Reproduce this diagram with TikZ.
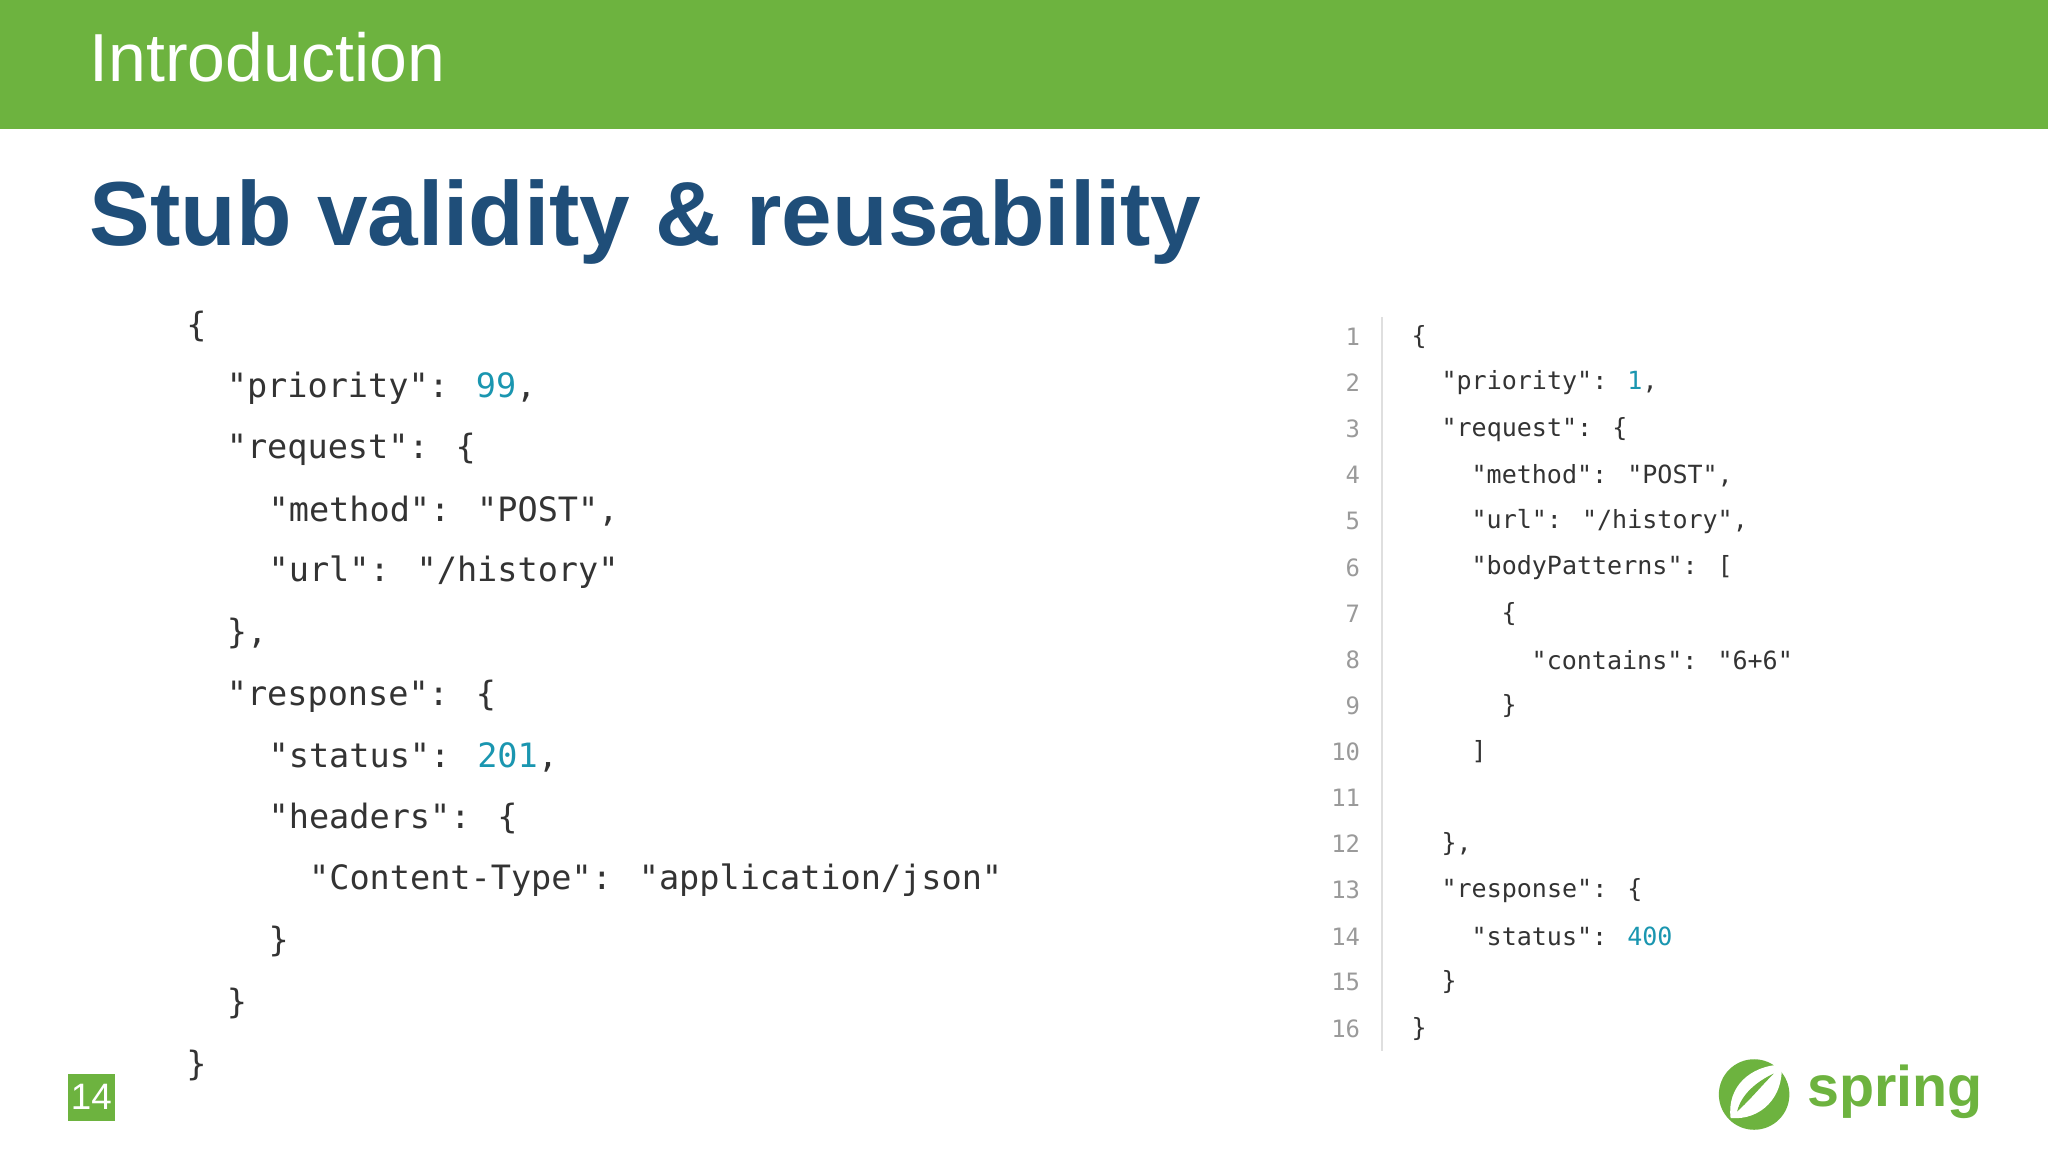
\documentclass[tikz,border=0pt]{standalone}
\usepackage{fontspec}
\setmainfont{Liberation Sans}
\newfontfamily\codefont{DejaVu Sans Mono}
\definecolor{sgreen}{HTML}{6DB33F}
\definecolor{tblue}{HTML}{1F4E79}
\definecolor{numc}{HTML}{1A96B0}
\definecolor{codec}{HTML}{333333}
\definecolor{lnum}{HTML}{9A9A9A}
\newcommand{\NN}[1]{\textcolor{numc}{#1}}
\tikzset{
 lcode/.style={anchor=west,inner sep=0pt,font=\codefont\fontsize{7.3}{8}\selectfont,text=codec},
 rcode/.style={anchor=west,inner sep=0pt,font=\codefont\fontsize{5.45}{6}\selectfont,text=codec},
 lno/.style={anchor=east,inner sep=0pt,font=\codefont\fontsize{5.2}{6}\selectfont,text=lnum}
}
\begin{document}
\begin{tikzpicture}[x=0.01cm,y=-0.01cm]
\useasboundingbox (0,0) rectangle (1568,880);
\fill[white] (0,0) rectangle (1568,880);
\fill[sgreen] (0,0) rectangle (1568,99);
\node[anchor=west,inner sep=0pt,text=white,font=\fontsize{14.8}{17}\selectfont] (hdr) at (68,44) {Introduction};
\node[anchor=west,inner sep=0pt,text=tblue,font=\bfseries\fontsize{19.8}{22}\selectfont] (title) at (68,170) {Stub validity \& reusability};
% left code
\node[lcode] (l1) at (142,250) {\{};
\node[lcode] (l2) at (173,297) {"priority": \NN{99},};
\node[lcode] (l3) at (173,344) {"request": \{};
\node[lcode] (l4) at (205,391) {"method": "POST",};
\node[lcode] (l5) at (205,438) {"url": "/history"};
\node[lcode] (l6) at (173,485) {\},};
\node[lcode] (l7) at (173,533) {"response": \{};
\node[lcode] (l8) at (205,580) {"status": \NN{201},};
\node[lcode] (l9) at (205,627) {"headers": \{};
\node[lcode] (l10) at (236,674) {"Content-Type": "application/json"};
\node[lcode] (l11) at (205,721) {\}};
\node[lcode] (l12) at (173,768) {\}};
\node[lcode] (l13) at (142,816) {\}};
% right code
\draw[gray!25,line width=0.6pt] (1058,243) -- (1058,805);
\foreach \i in {1,...,16}{
  \node[lno] (n\i) at (1042,{258+35.3*(\i-1)}) {\i};
}
\node[rcode] (r1) at (1080,258) {\{};
\node[rcode] (r2) at (1103,293.3) {"priority": \NN{1},};
\node[rcode] (r3) at (1103,328.6) {"request": \{};
\node[rcode] (r4) at (1126,363.9) {"method": "POST",};
\node[rcode] (r5) at (1126,399.2) {"url": "/history",};
\node[rcode] (r6) at (1126,434.5) {"bodyPatterns": [};
\node[rcode] (r7) at (1149,469.8) {\{};
\node[rcode] (r8) at (1172,505.1) {"contains": "6+6"};
\node[rcode] (r9) at (1149,540.4) {\}};
\node[rcode] (r10) at (1126,575.7) {]};
\node[rcode] (r12) at (1103,646.3) {\},};
\node[rcode] (r13) at (1103,681.6) {"response": \{};
\node[rcode] (r14) at (1126,716.9) {"status": \NN{400}};
\node[rcode] (r15) at (1103,752.2) {\}};
\node[rcode] (r16) at (1080,787.5) {\}};
% page number
\fill[sgreen] (52,822) rectangle (88,858);
\node[inner sep=0pt,text=white,font=\fontsize{8}{9}\selectfont] (pg) at (70,840) {14};
% spring logo
\fill[sgreen] (1343,838) circle (27);
\fill[white] (1325,856) .. controls (1322,832) and (1340,816) .. (1364,815)
  .. controls (1366,840) and (1348,858) .. (1325,856) -- cycle;
\fill[sgreen] (1330,851) .. controls (1333,838) and (1345,828) .. (1358,822)
  .. controls (1348,832) and (1340,842) .. (1330,851) -- cycle;
\fill[white] (1329,846) circle (2.2);
\node[anchor=west,inner sep=0pt,text=sgreen,font=\bfseries\fontsize{12.5}{14}\selectfont] (spr) at (1383,836) {spring};
\end{tikzpicture}
\end{document}
